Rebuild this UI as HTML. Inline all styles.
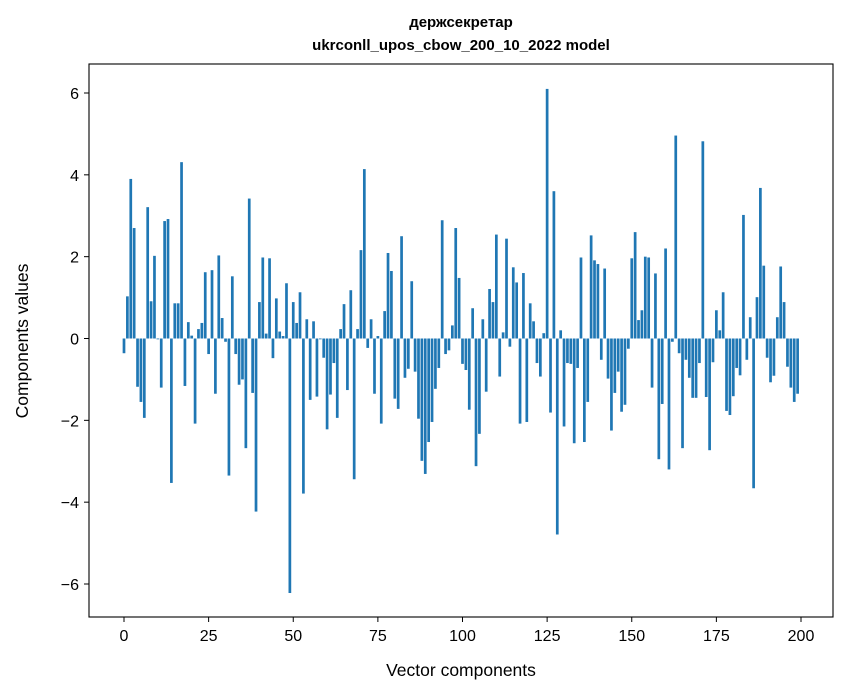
<!DOCTYPE html>
<html><head><meta charset="utf-8"><style>
body{margin:0;background:#fff;}
svg{display:block;font-family:"Liberation Sans","DejaVu Sans",sans-serif;}
</style></head><body>
<svg id="chart" width="847" height="696" viewBox="0 0 847 696">
<rect width="847" height="696" fill="#fff"/>
<text x="461" y="27" text-anchor="middle" font-size="15" font-weight="bold">держсекретар</text>
<text x="461" y="50" text-anchor="middle" font-size="15" font-weight="bold">ukrconll_upos_cbow_200_10_2022 model</text>
<g id="bars"></g>
<rect x="89" y="64" width="744" height="553" fill="none" stroke="#000" stroke-width="1.1"/>
<g id="xticks"></g>
<g id="yticks"></g>
<text x="461" y="676" text-anchor="middle" font-size="17.5">Vector components</text>
<text x="0" y="0" transform="translate(28,341) rotate(-90)" text-anchor="middle" font-size="17.5">Components values</text>
</svg>
<script>
const values = [
-0.36,1.03,3.9,2.7,-1.18,-1.55,-1.94,3.21,0.91,2.02,
-0.02,-1.2,2.87,2.92,-3.53,0.86,0.86,4.31,-1.16,0.4,
0.07,-2.08,0.23,0.38,1.62,-0.38,1.67,-1.35,2.03,0.5,
-0.08,-3.35,1.52,-0.38,-1.13,-1.0,-2.68,3.42,-1.33,-4.23,
0.89,1.98,0.12,1.96,-0.48,0.98,0.17,0.06,1.35,-6.22,
0.89,0.38,1.13,-3.79,0.47,-1.5,0.42,-1.42,-0.02,-0.47,
-2.22,-1.37,-0.6,-1.94,0.23,0.84,-1.26,1.18,-3.44,0.23,
2.16,4.14,-0.23,0.47,-1.35,0.06,-2.08,0.67,2.09,1.65,
-1.47,-1.72,2.5,-0.96,-0.74,1.4,-0.81,-1.96,-2.99,-3.31,
-2.53,-2.04,-1.23,-0.72,2.89,-0.38,-0.29,0.32,2.7,1.48,
-0.62,-0.77,-1.74,0.74,-3.12,-2.33,0.47,-1.3,1.21,0.89,
2.54,-0.93,0.15,2.44,-0.2,1.74,1.37,-2.08,1.6,-2.04,
0.86,0.42,-0.6,-0.93,0.13,6.1,-1.81,3.6,-4.79,0.2,
-2.15,-0.6,-0.62,-2.56,-0.72,1.98,-2.53,-1.55,2.52,1.91,
1.82,-0.52,1.71,-0.98,-2.25,-1.33,-0.81,-1.79,-1.62,-0.25,
1.96,2.6,0.45,0.69,2.0,1.98,-1.2,1.59,-2.95,-1.6,
2.2,-3.2,-0.08,4.96,-0.36,-2.68,-0.52,-0.96,-1.45,-1.45,
-0.6,4.82,-1.43,-2.73,-0.58,0.69,0.2,1.13,-1.77,-1.87,
-1.41,-0.72,-0.9,3.02,-0.52,0.52,-3.66,1.01,3.68,1.78,
-0.47,-1.07,-0.91,0.52,1.76,0.89,-0.69,-1.2,-1.55,-1.35
];
const xTickValues = [0,25,50,75,100,125,150,175,200];
const yTickValues = [-6,-4,-2,0,2,4,6];
const yTickLabels = ["\u22126","\u22124","\u22122","0","2","4","6"];

const NS = "http://www.w3.org/2000/svg";
const x0 = 124, xPer = 677/200;
const y0 = 338.5, yPer = 491/12;
function xs(i){ return x0 + i*xPer; }
function ys(v){ return y0 - v*yPer; }

const barsG = document.getElementById('bars');
const bw = 0.8*xPer;
values.forEach((v,i)=>{
  const r = document.createElementNS(NS,'rect');
  r.setAttribute('x', xs(i)-bw/2);
  r.setAttribute('width', bw);
  r.setAttribute('y', Math.min(ys(v), ys(0)));
  r.setAttribute('height', Math.abs(ys(v)-ys(0)));
  r.setAttribute('fill', '#1f77b4');
  
  
  barsG.appendChild(r);
});

const xg = document.getElementById('xticks');
xTickValues.forEach(t=>{
  const l = document.createElementNS(NS,'line');
  l.setAttribute('x1', xs(t)); l.setAttribute('x2', xs(t));
  l.setAttribute('y1', 617); l.setAttribute('y2', 622);
  l.setAttribute('stroke', '#000');
  
  
  xg.appendChild(l);
  const tx = document.createElementNS(NS,'text');
  tx.setAttribute('x', xs(t)); tx.setAttribute('y', 641);
  tx.setAttribute('text-anchor', 'middle'); tx.setAttribute('font-size', '16');
  tx.textContent = t;
  
  
  xg.appendChild(tx);
});
const yg = document.getElementById('yticks');
yTickValues.forEach((t,k)=>{
  const l = document.createElementNS(NS,'line');
  l.setAttribute('x1', 84); l.setAttribute('x2', 89);
  l.setAttribute('y1', ys(t)); l.setAttribute('y2', ys(t));
  l.setAttribute('stroke', '#000');
  
  
  yg.appendChild(l);
  const tx = document.createElementNS(NS,'text');
  tx.setAttribute('x', 79); tx.setAttribute('y', ys(t)+6);
  tx.setAttribute('text-anchor', 'end'); tx.setAttribute('font-size', '16');
  tx.textContent = yTickLabels[k];
  
  
  yg.appendChild(tx);
});
</script>
</body></html>
